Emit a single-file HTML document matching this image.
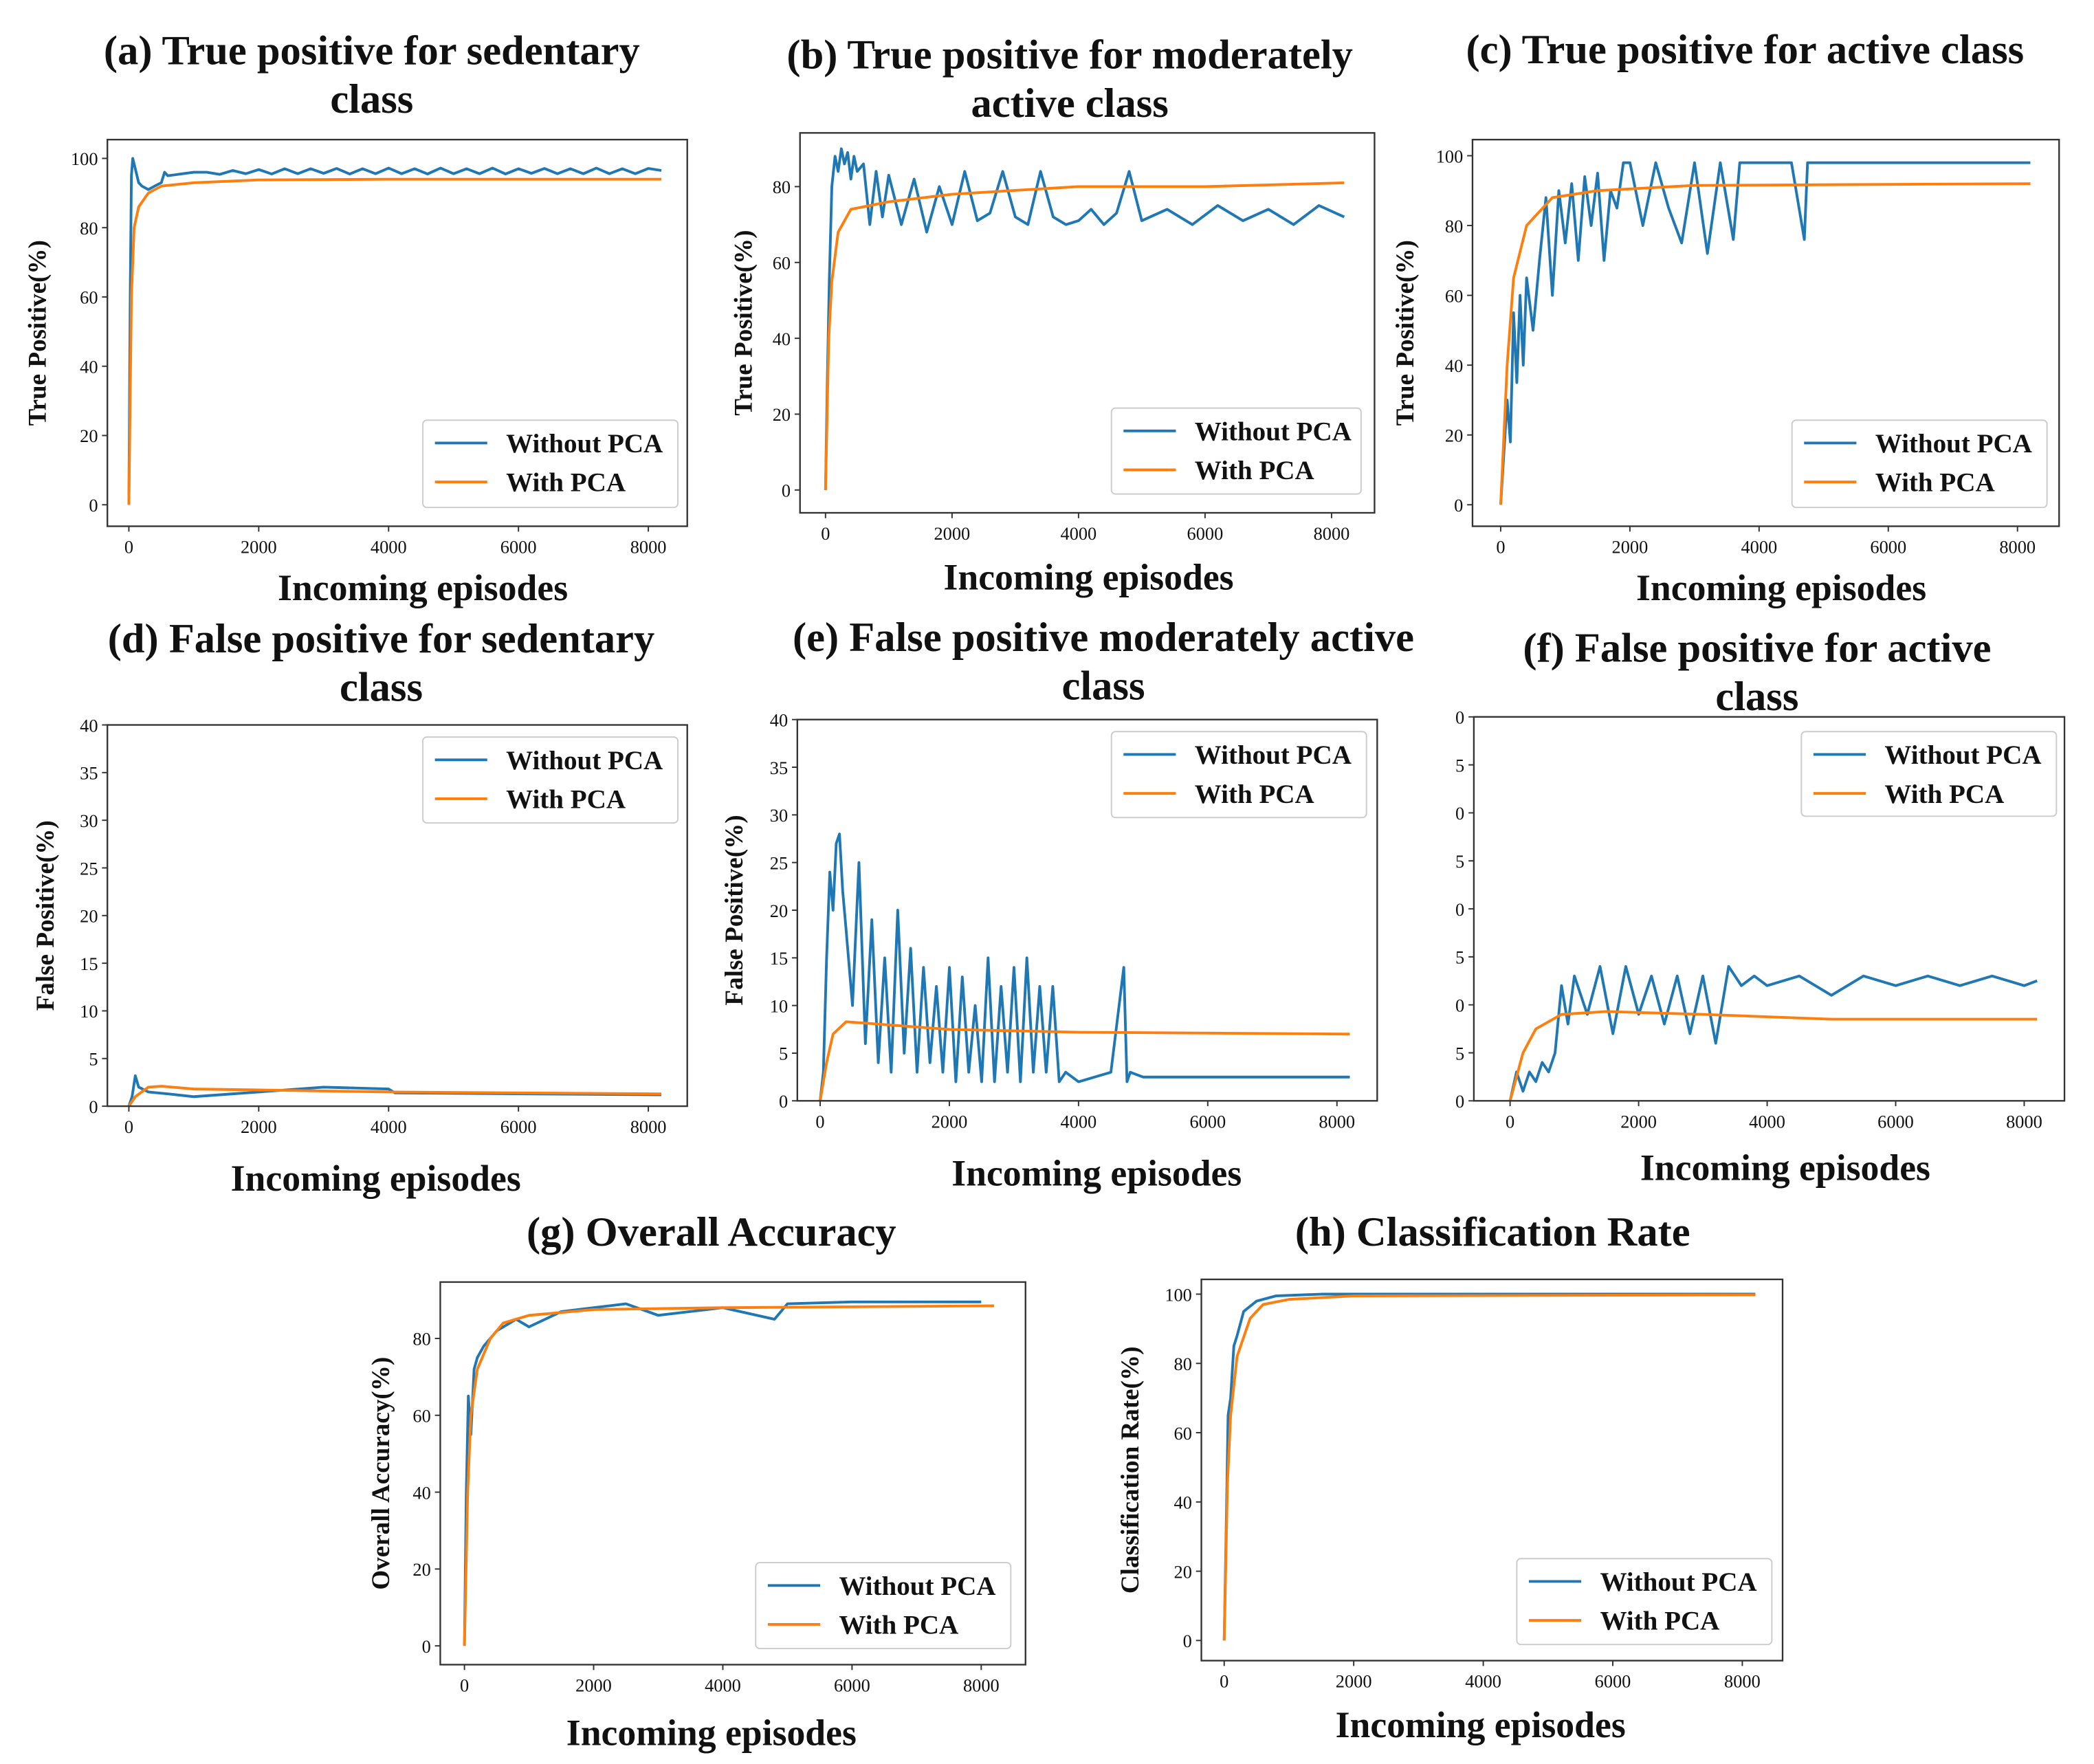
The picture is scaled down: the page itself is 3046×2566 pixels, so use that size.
<!DOCTYPE html>
<html><head><meta charset="utf-8"><style>
html,body{margin:0;padding:0;background:#fff;}
svg{display:block;}
text{font-family:"Liberation Serif",serif;fill:#111;}
.t{font-size:31px;font-weight:bold;text-anchor:middle;}
.xl{font-size:27.5px;font-weight:bold;text-anchor:middle;}
.yl{font-size:19px;font-weight:bold;text-anchor:middle;}
.tk{font-size:13.5px;}
.lg{font-size:20px;font-weight:bold;}
</style></head><body>
<svg id="fig" width="3046" height="2566" viewBox="0 0 1560 1314" preserveAspectRatio="none" xmlns="http://www.w3.org/2000/svg">
<defs><clipPath id="fclip"><rect x="1084" y="500" width="480" height="420"/></clipPath></defs>
</svg>
<script>
// ---- data ----
const A_W_X=[0,20,40,60,100,150,200,300,400,500,550,600,800,1000,1200,1400,1600,1800,2000,2200,2400,2600,2800,3000,3200,3400,3600,3800,4000,4200,4400,4600,4800,5000,5200,5400,5600,5800,6000,6200,6400,6600,6800,7000,7200,7400,7600,7800,8000,8200];
const A_W_Y=[0,60,95,100,97,93,92,91,92,93,96,95,95.5,96,96,95.4,96.5,95.6,96.8,95.5,97,95.6,97,95.7,97.1,95.5,97,95.6,97.2,95.6,97,95.5,97.2,95.6,97,95.6,97.2,95.5,97,95.7,97.1,95.6,97,95.6,97.2,95.6,97,95.6,97.1,96.5];
const A_P_X=[0,40,80,150,300,500,1000,2000,4000,8200];
const A_P_Y=[0,60,80,86,90,92,93,93.8,94,94];
const B_W_X=[0,30,60,100,150,200,250,300,350,400,450,500,600,700,800,900,1000,1200,1400,1600,1800,2000,2200,2400,2600,2800,3000,3200,3400,3600,3800,4000,4200,4400,4600,4800,5000,5400,5800,6200,6600,7000,7400,7800,8200];
const B_W_Y=[0,30,55,80,88,84,90,86,89,82,88,84,86,70,84,72,83,70,82,68,80,70,84,71,73,84,72,70,84,72,70,71,74,70,73,84,71,74,70,75,71,74,70,75,72];
const B_P_X=[0,50,100,200,400,1000,2000,3000,4000,6000,8200];
const B_P_Y=[0,40,55,68,74,76,78,79,80,80,81];
const C_W_X=[0,50,100,150,200,250,300,350,400,500,600,700,800,900,1000,1100,1200,1300,1400,1500,1600,1700,1800,1900,2000,2200,2400,2600,2800,3000,3200,3400,3600,3700,3800,4000,4500,4700,4750,4800,5000,6000,7000,8200];
const C_W_Y=[0,15,30,18,55,35,60,40,65,50,70,88,60,90,75,92,70,94,80,95,70,90,85,98,98,80,98,85,75,98,72,98,76,98,98,98,98,76,98,98,98,98,98,98];
const C_P_X=[0,100,200,400,800,1500,3000,8200];
const C_P_Y=[0,40,65,80,88,90,91.5,92];
const D_W_X=[0,50,100,150,300,600,1000,2000,3000,4000,4100,8200];
const D_W_Y=[0,1,3.2,2,1.5,1.3,1,1.5,2,1.8,1.4,1.2];
const D_P_X=[0,100,300,500,1000,2000,4000,8200];
const D_P_Y=[0,1,2,2.1,1.8,1.7,1.5,1.3];
const E_W_X=[0,50,100,150,200,250,300,350,400,500,600,700,800,900,1000,1100,1200,1300,1400,1500,1600,1700,1800,1900,2000,2100,2200,2300,2400,2500,2600,2700,2800,2900,3000,3100,3200,3300,3400,3500,3600,3700,3800,4000,4500,4700,4750,4800,5000,6000,7000,8200];
const E_W_Y=[0,3,15,24,20,27,28,22,18,10,25,6,19,4,15,3,20,5,16,3,14,4,12,3,14,2,13,3,10,2,15,2,12,3,14,2,15,3,12,3,12,2,3,2,3,14,2,3,2.5,2.5,2.5,2.5];
const E_P_X=[0,100,200,400,1000,2000,4000,8200];
const E_P_Y=[0,4,7,8.3,8,7.5,7.2,7];
const F_W_X=[0,100,200,300,400,500,600,700,800,900,1000,1200,1400,1600,1800,2000,2200,2400,2600,2800,3000,3200,3400,3600,3800,4000,4500,5000,5500,6000,6500,7000,7500,8000,8200];
const F_W_Y=[0,3,1,3,2,4,3,5,12,8,13,9,14,7,14,9,13,8,13,7,13,6,14,12,13,12,13,11,13,12,13,12,13,12,12.5];
const F_P_X=[0,200,400,800,1500,3000,5000,8200];
const F_P_Y=[0,5,7.5,9,9.3,9,8.5,8.5];
const G_W_X=[0,30,60,100,150,200,300,500,800,1000,1500,2000,2500,3000,4000,4800,5000,6000,8000];
const G_W_Y=[0,40,65,55,72,75,78,82,85,83,87,88,89,86,88,85,89,89.5,89.5];
const G_P_X=[0,50,100,200,400,600,1000,2000,4000,8200];
const G_P_Y=[0,40,60,72,80,84,86,87.5,88,88.5];
const H_W_X=[0,30,60,100,150,200,300,500,800,1500,8200];
const H_W_Y=[0,30,65,70,85,88,95,98,99.5,100,100];
const H_P_X=[0,50,100,200,400,600,1000,2000,8200];
const H_P_Y=[0,45,65,82,93,97,98.5,99.5,99.8];
const X_TICKS=[0,2000,4000,6000,8000];
const Y_TICKS_100=[0,20,40,60,80,100];
const Y_TICKS_80=[0,20,40,60,80];
const Y_TICKS_40=[0,5,10,15,20,25,30,35,40];

const NS="http://www.w3.org/2000/svg";
const svg=document.getElementById('fig');
function mk(tag,attrs,parent){const e=document.createElementNS(NS,tag);for(const k in attrs)e.setAttribute(k,attrs[k]);(parent||svg).appendChild(e);return e;}

function panel(id,g,title,ylabel,yticks,series){
  const grp=mk('g',{});
  
  
  const sx=v=>g.x0+(v/8000)*(g.x8-g.x0);
  const sy=v=>g.y0+(v/g.ymax)*(g.yT-g.y0);
  title.forEach((ln,i)=>{const t=mk('text',{x:g.tc,y:g.ty+i*36,class:'t'},grp);t.textContent=ln;
    
    });
  const xl=mk('text',{x:g.xlc,y:g.xly,class:'xl'},grp);xl.textContent='Incoming episodes';
  
  
  const yl=mk('text',{x:g.ylx,y:(g.b.y+g.b.y2)/2,class:'yl',transform:`rotate(-90 ${g.ylx} ${(g.b.y+g.b.y2)/2})`},grp);yl.textContent=ylabel;
  
  
  const tg=mk('g',g.clip?{'clip-path':'url(#fclip)'}:{},grp);
  X_TICKS.forEach(v=>{const x=sx(v);mk('line',{x1:x,x2:x,y1:g.b.y2,y2:g.b.y2+4,stroke:'#333','stroke-width':1},tg);
    const t=mk('text',{x:x,y:g.b.y2+20,class:'tk','text-anchor':'middle'},tg);t.textContent=v;
    
    });
  yticks.forEach(v=>{const y=sy(v);mk('line',{x1:g.b.x-4,x2:g.b.x,y1:y,y2:y,stroke:'#333','stroke-width':1},tg);
    const t=mk('text',{x:g.b.x-7,y:y+5,class:'tk','text-anchor':'end'},tg);t.textContent=v;
    
    });
  const cl='c'+id;mk('clipPath',{id:cl},svg);
  const cp=svg.lastChild;mk('rect',{x:g.b.x,y:g.b.y,width:g.b.x2-g.b.x,height:g.b.y2-g.b.y},cp);
  series.forEach(s=>{const n=Math.min(s.x.length,s.y.length);let d='';
    for(let i=0;i<n;i++)d+=(i?'L':'M')+sx(s.x[i]).toFixed(1)+','+sy(s.y[i]).toFixed(1);
    const p=mk('path',{d:d,fill:'none',stroke:s.c,'stroke-width':2,'stroke-linejoin':'round','clip-path':`url(#${cl})`},grp);
    
    });
  const ax=mk('rect',{x:g.b.x,y:g.b.y,width:g.b.x2-g.b.x,height:g.b.y2-g.b.y,fill:'none',stroke:'#333','stroke-width':1.2},grp);
  
  
  const L=g.lg;const lg=mk('g',{},grp);
  
  
  mk('rect',{x:L[0],y:L[1],width:L[2]-L[0],height:L[3]-L[1],rx:3,fill:'#fff',stroke:'#ccc','stroke-width':1},lg);
  [['Without PCA','#1f77b4'],['With PCA','#ff7f0e']].forEach((e,i)=>{const yy=L[1]+17+i*29;
    mk('line',{x1:L[0]+9,x2:L[0]+48,y1:yy,y2:yy,stroke:e[1],'stroke-width':2},lg);
    const t=mk('text',{x:L[0]+62,y:yy+7,class:'lg'},lg);t.textContent=e[0];
    
    });
}
const B='#1f77b4',O='#ff7f0e';
panel('a',{b:{x:80,y:104,x2:512,y2:392},x0:96,x8:483,y0:376,yT:118,ymax:100,tc:277,ty:48,xlc:315,xly:447,ylx:34,lg:[315,313,505,378]},
 ['(a) True positive for sedentary','class'],'True Positive(%)',Y_TICKS_100,
 [{x:A_W_X,y:A_W_Y,c:B,name:'line-without-pca'},{x:A_P_X,y:A_P_Y,c:O,name:'line-with-pca'}]);
panel('b',{b:{x:596,y:99,x2:1024,y2:382},x0:615,x8:992,y0:365,yT:139,ymax:80,tc:797,ty:51,xlc:811,xly:439,ylx:560,lg:[828,304,1014,368]},
 ['(b) True positive for moderately','active class'],'True Positive(%)',Y_TICKS_80,
 [{x:B_W_X,y:B_W_Y,c:B,name:'line-without-pca'},{x:B_P_X,y:B_P_Y,c:O,name:'line-with-pca'}]);
panel('c',{b:{x:1097,y:104,x2:1534,y2:392},x0:1118,x8:1503,y0:376,yT:116,ymax:100,tc:1300,ty:47,xlc:1327,xly:447,ylx:1053,lg:[1335,313,1525,378]},
 ['(c) True positive for active class'],'True Positive(%)',Y_TICKS_100,
 [{x:C_W_X,y:C_W_Y,c:B,name:'line-without-pca'},{x:C_P_X,y:C_P_Y,c:O,name:'line-with-pca'}]);
panel('d',{b:{x:80,y:540,x2:512,y2:824},x0:96,x8:483,y0:824,yT:540,ymax:40,tc:284,ty:486,xlc:280,xly:887,ylx:40,lg:[315,549,505,613]},
 ['(d) False positive for sedentary','class'],'False Positive(%)',Y_TICKS_40,
 [{x:D_W_X,y:D_W_Y,c:B,name:'line-without-pca'},{x:D_P_X,y:D_P_Y,c:O,name:'line-with-pca'}]);
panel('e',{b:{x:594,y:536,x2:1026,y2:820},x0:611,x8:996,y0:820,yT:536,ymax:40,tc:822,ty:485,xlc:817,xly:883,ylx:553,lg:[828,545,1018,609]},
 ['(e) False positive moderately active','class'],'False Positive(%)',Y_TICKS_40,
 [{x:E_W_X,y:E_W_Y,c:B,name:'line-without-pca'},{x:E_P_X,y:E_P_Y,c:O,name:'line-with-pca'}]);
panel('f',{b:{x:1098,y:534,x2:1538,y2:820},x0:1125,x8:1508,y0:820,yT:534,ymax:40,tc:1309,ty:493,xlc:1330,xly:879,ylx:1040,clip:true,lg:[1342,545,1532,608]},
 ['(f) False positive for active','class'],'',Y_TICKS_40,
 [{x:F_W_X,y:F_W_Y,c:B,name:'line-without-pca'},{x:F_P_X,y:F_P_Y,c:O,name:'line-with-pca'}]);
panel('g',{b:{x:328,y:955,x2:764,y2:1240},x0:346,x8:731,y0:1226,yT:997,ymax:80,tc:530,ty:928,xlc:530,xly:1300,ylx:290,lg:[563,1164,753,1228]},
 ['(g) Overall Accuracy'],'Overall Accuracy(%)',Y_TICKS_80,
 [{x:G_W_X,y:G_W_Y,c:B,name:'line-without-pca'},{x:G_P_X,y:G_P_Y,c:O,name:'line-with-pca'}]);
panel('h',{b:{x:895,y:953,x2:1328,y2:1237},x0:912,x8:1298,y0:1222,yT:964,ymax:100,tc:1112,ty:928,xlc:1103,xly:1294,ylx:848,lg:[1130,1161,1320,1225]},
 ['(h) Classification Rate'],'Classification Rate(%)',Y_TICKS_100,
 [{x:H_W_X,y:H_W_Y,c:B,name:'line-without-pca'},{x:H_P_X,y:H_P_Y,c:O,name:'line-with-pca'}]);
</script>
</body></html>
